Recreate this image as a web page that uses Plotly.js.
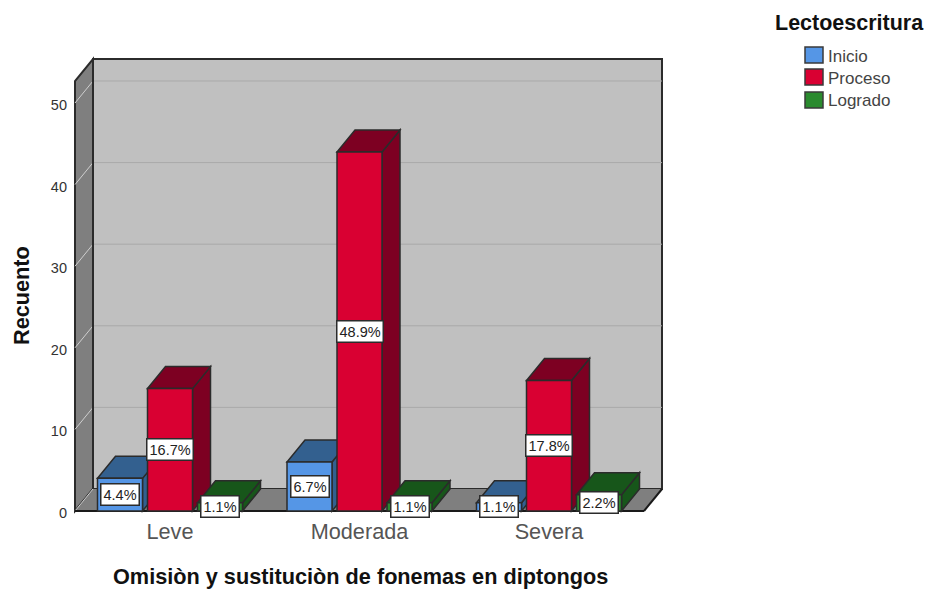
<!DOCTYPE html>
<html><head><meta charset="utf-8">
<script src="https://cdn.plot.ly/plotly-3.0.1.min.js"></script>
<style>html,body{margin:0;padding:0;background:#fff}#c{width:927px;height:589px}</style>
</head><body><div id="c"></div>
<script>
const categories = ['Leve','Moderada','Severa'];
const seriesNames = ['Inicio','Proceso','Logrado'];
const inicio = [4,6,1];
const proceso = [15,44,16];
const logrado = [1,1,2];
const inicioPct = ['4.4%','6.7%','1.1%'];
const procesoPct = ['16.7%','48.9%','17.8%'];
const logradoPct = ['1.1%','1.1%','2.2%'];
const yTicks = [0,10,20,30,40,50];
const frontColors = ['#5596e6','#d90032','#2a8a2e'];
const darkColors = ['#33608f','#7d0022','#17561a'];

const values = [inicio,proceso,logrado];
const pcts = [inicioPct,procesoPct,logradoPct];
const pxX = 189.5, pxY = 8.16;
const dx = 18/pxX, dy = 22/pxY;
const slot = 50/pxX, barW = 45/pxX;
const xMin = -95/pxX, xFront = 474/pxX, xBack = xFront+dx;
const yBack = 452/pxY;
const yTopFront = yBack-dy;
const edge = '#2b2b2b';
const pad = 3;
const plotL = 75-pad, plotR = 662+pad, plotT = 59-pad, plotB = 511+pad;
const px = x => (x-plotL)/(plotR-plotL);
const py = y => (plotB-y)/(plotB-plotT);

function poly(pts,fill,lw,lc){
  return {type:'path',xref:'x',yref:'y',layer:'below',
    path:'M'+pts.map(p=>p[0]+','+p[1]).join('L')+'Z',
    fillcolor:fill,line:{color:lc||edge,width:lw===undefined?1.5:lw}};
}
function seg(a,b,c,w){
  return {type:'line',xref:'x',yref:'y',layer:'below',x0:a[0],y0:a[1],x1:b[0],y1:b[1],line:{color:c,width:w}};
}
const shapes = [];
shapes.push(poly([[xMin+dx,dy],[xBack,dy],[xBack,yBack],[xMin+dx,yBack]],'#c0c0c0',2));
shapes.push(poly([[xMin,0],[xMin+dx,dy],[xMin+dx,yBack],[xMin,yTopFront]],'#7f7f7f',2));
shapes.push(poly([[xMin,0],[xFront,0],[xBack,dy],[xMin+dx,dy]],'#7f7f7f',0));
yTicks.forEach(v=>{
  if(v>0) shapes.push(seg([xMin+dx,v+dy],[xBack,v+dy],'#a9a9a9',1));
  shapes.push(seg([xMin,v],[xMin+dx,v+dy],'#cfcfcf',1));
});
shapes.push(seg([xMin,0],[xFront,0],'#1a1a1a',2));
shapes.push(seg([xFront,0],[xBack,dy],'#1a1a1a',2));
shapes.push(seg([xMin+dx,dy],[xMin+dx,yBack],edge,2));
categories.forEach((c,i)=>{
  values.forEach((arr,s)=>{
    const cx = i+(s-1)*slot, l = cx-barW/2, r = cx+barW/2, v = arr[i];
    shapes.push(poly([[r,0],[r+dx,dy],[r+dx,v+dy],[r,v]],darkColors[s]));
    shapes.push(poly([[l,v],[r,v],[r+dx,v+dy],[l+dx,v+dy]],darkColors[s]));
  });
});
const legendY = [55,77,100];
seriesNames.forEach((n,s)=>{
  shapes.push({type:'rect',xref:'paper',yref:'paper',layer:'above',
    x0:px(805),x1:px(823),y0:py(legendY[s]+8),y1:py(legendY[s]-8),
    fillcolor:frontColors[s],line:{color:'#3a3a3a',width:1.5}});
});

const font = 'Liberation Sans, Arial, sans-serif';
const annotations = [];
categories.forEach((c,i)=>{
  values.forEach((arr,s)=>{
    annotations.push({xref:'x',yref:'y',x:i+(s-1)*slot,y:arr[i]/2,text:pcts[s][i],showarrow:false,
      font:{family:font,size:14.5,color:'#222'},bgcolor:'#fff',bordercolor:'#2b2b2b',borderwidth:1.5,borderpad:2});
  });
});
annotations.push({xref:'paper',yref:'paper',x:px(360),y:py(576),xanchor:'center',yanchor:'middle',showarrow:false,
  text:'<b>Omisiòn y sustituciòn de fonemas en diptongos</b>',font:{family:font,size:21.7,color:'#111'}});
annotations.push({xref:'paper',yref:'paper',x:px(21),y:py(296),xanchor:'center',yanchor:'middle',showarrow:false,textangle:-90,
  text:'<b>Recuento</b>',font:{family:font,size:21.7,color:'#111'}});
annotations.push({xref:'paper',yref:'paper',x:px(849),y:py(23),xanchor:'center',yanchor:'middle',showarrow:false,
  text:'<b>Lectoescritura</b>',font:{family:font,size:21.5,color:'#111'}});
seriesNames.forEach((n,s)=>{
  annotations.push({xref:'paper',yref:'paper',x:px(826),y:py(legendY[s]+1),xanchor:'left',yanchor:'middle',showarrow:false,
    text:n,font:{family:font,size:17,color:'#444'}});
});

const traces = seriesNames.map((n,s)=>({
  type:'bar',name:n,x:[0,1,2],y:values[s],
  marker:{color:frontColors[s],line:{color:edge,width:1.5}},
  hoverinfo:'x+y+name'
}));

Plotly.newPlot('c',traces,{
  width:927,height:589,
  margin:{l:plotL,r:927-plotR,t:plotT,b:589-plotB,pad:0},
  paper_bgcolor:'#fff',plot_bgcolor:'rgba(0,0,0,0)',
  showlegend:false,
  barmode:'group',bargap:1-3*slot,bargroupgap:0.1,
  xaxis:{range:[xMin-pad/pxX,xBack+pad/pxX],tickvals:[0,1,2],ticktext:categories,showgrid:false,zeroline:false,showline:false,ticks:'',ticklabelstandoff:2,
    tickfont:{family:font,size:21.7,color:'#555'},fixedrange:true},
  yaxis:{range:[-pad/pxY,yBack+pad/pxY],tickvals:yTicks,showgrid:false,zeroline:false,showline:false,ticks:'',ticklabelstandoff:4,ticklabelshift:2,
    tickfont:{family:font,size:14.5,color:'#333'},fixedrange:true},
  shapes,annotations
},{displayModeBar:false,staticPlot:true});
</script></body></html>
